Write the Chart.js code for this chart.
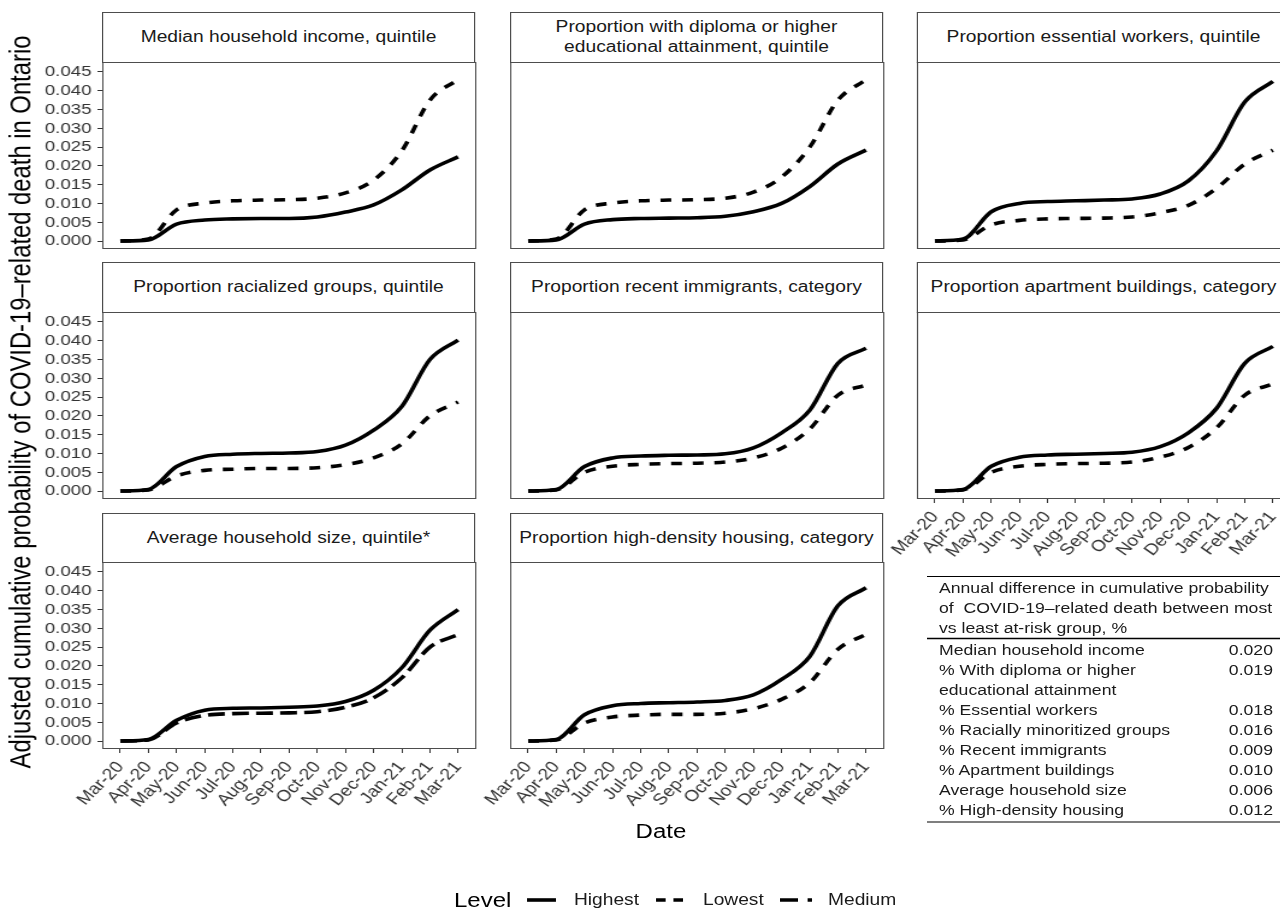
<!DOCTYPE html>
<html>
<head>
<meta charset="utf-8">
<script src="https://cdn.jsdelivr.net/npm/chart.js@4.4.1/dist/chart.umd.min.js"></script>
<style>
  html, body { margin:0; padding:0; background:#fff; }
  body { width:1280px; height:910px; overflow:hidden; position:relative; font-family:"Liberation Sans", Arial, sans-serif; color:#1a1a1a; }
  #stage { position:absolute; left:0; top:0; width:1100px; height:910px; transform:scaleX(1.2); transform-origin:0 0; }
  .strip { position:absolute; box-sizing:border-box; border:1px solid #4d4d4d; background:#fff; display:flex; align-items:center; justify-content:center; text-align:center; font-size:16px; line-height:20px; color:#1a1a1a; white-space:pre; }
  .cbox { position:absolute; }
  .txt { position:absolute; white-space:pre; }
</style>
</head>
<body>
<div id="stage"></div>
<script>
// ---------------- data ----------------
const months = ["Mar-20","Apr-20","May-20","Jun-20","Jul-20","Aug-20","Sep-20","Oct-20","Nov-20","Dec-20","Jan-21","Feb-21","Mar-21"];
const yTickValues = [0, 0.005, 0.010, 0.015, 0.020, 0.025, 0.030, 0.035, 0.040, 0.045];

const panelTitles = [
  "Median household income, quintile",
  "Proportion with diploma or higher\neducational attainment, quintile",
  "Proportion essential workers, quintile",
  "Proportion racialized groups, quintile",
  "Proportion recent immigrants, category",
  "Proportion apartment buildings, category",
  "Average household size, quintile*",
  "Proportion high-density housing, category"
];

const incomeHighest   = [0,0.0003,0.0045,0.0056,0.0059,0.0060,0.0060,0.0064,0.0077,0.0096,0.0136,0.0189,0.0224];
const incomeLowest    = [0,0.0005,0.0083,0.0101,0.0107,0.0109,0.0110,0.0114,0.0128,0.0162,0.0240,0.0375,0.0430];
const diplomaHighest  = [0,0.0003,0.0045,0.0057,0.0060,0.0061,0.0062,0.0066,0.0078,0.0100,0.0145,0.0205,0.0242];
const diplomaLowest   = [0,0.0005,0.0083,0.0101,0.0107,0.0109,0.0110,0.0114,0.0130,0.0170,0.0250,0.0375,0.0430];
const essentialHighest= [0,0.0005,0.0078,0.0100,0.0105,0.0107,0.0109,0.0112,0.0125,0.0160,0.0240,0.0370,0.0425];
const essentialLowest = [0,0.0003,0.0043,0.0055,0.0059,0.0060,0.0061,0.0064,0.0075,0.0095,0.0140,0.0205,0.0242];
const racialHighest   = [0,0.0004,0.0065,0.0092,0.0098,0.0100,0.0101,0.0105,0.0122,0.0162,0.0225,0.0350,0.0402];
const racialLowest    = [0,0.0003,0.0040,0.0055,0.0058,0.0060,0.0060,0.0062,0.0070,0.0088,0.0125,0.0200,0.0237];
const immigHighest    = [0,0.0004,0.0065,0.0088,0.0093,0.0095,0.0096,0.0099,0.0115,0.0155,0.0215,0.0340,0.0380];
const immigLowest     = [0,0.0003,0.0050,0.0066,0.0071,0.0073,0.0074,0.0077,0.0088,0.0114,0.0165,0.0255,0.0282];
const apartHighest    = [0,0.0004,0.0066,0.0090,0.0096,0.0098,0.0100,0.0103,0.0118,0.0155,0.0220,0.0340,0.0385];
const apartLowest     = [0,0.0003,0.0050,0.0066,0.0071,0.0073,0.0074,0.0077,0.0090,0.0116,0.0168,0.0255,0.0285];
const hhsizeHighest   = [0,0.0004,0.0055,0.0082,0.0087,0.0088,0.0090,0.0093,0.0105,0.0135,0.0195,0.0295,0.0350];
const hhsizeMedium    = [0,0.0003,0.0048,0.0068,0.0073,0.0074,0.0075,0.0078,0.0090,0.0115,0.0168,0.0250,0.0283];
const densityHighest  = [0,0.0004,0.0070,0.0094,0.0100,0.0102,0.0104,0.0108,0.0123,0.0164,0.0225,0.0360,0.0408];
const densityLowest   = [0,0.0003,0.0048,0.0064,0.0069,0.0071,0.0071,0.0074,0.0086,0.0111,0.0155,0.0244,0.0284];

const panelSeries = [
  [incomeHighest, incomeLowest, "Lowest"],
  [diplomaHighest, diplomaLowest, "Lowest"],
  [essentialHighest, essentialLowest, "Lowest"],
  [racialHighest, racialLowest, "Lowest"],
  [immigHighest, immigLowest, "Lowest"],
  [apartHighest, apartLowest, "Lowest"],
  [hhsizeHighest, hhsizeMedium, "Medium"],
  [densityHighest, densityLowest, "Lowest"]
];

const tableHeader = ["Annual difference in cumulative probability", "of  COVID-19\u2013related death between most", "vs least at-risk group, %"];
const tableLabels = ["Median household income","% With diploma or higher","educational attainment","% Essential workers","% Racially minoritized groups","% Recent immigrants","% Apartment buildings","Average household size","% High-density housing"];
const tableValues = ["0.020","0.019","","0.018","0.016","0.009","0.010","0.006","0.012"];

const yTitle = "Adjusted cumulative probability of COVID-19\u2013related death in Ontario";
const xTitle = "Date";
const legendTitle = "Level";
const legendItems = ["Highest", "Lowest", "Medium"];

// ---------------- layout (unstretched coordinates) ----------------
const FONT = "'Liberation Sans', Arial, sans-serif";
const colLeft = [85, 425, 764.2];
const rowTop = [12, 262, 512.5];
const STRIP_H = 50.5;
const PLOT_W = 310.8;
const PLOT_H = 187;
const Y_AXIS_W = 55;
const X_AXIS_H = 62;
const P = 30;
const X_MIN = -0.64, X_MAX = 12.64;
const Y_MIN = -0.00213, Y_MAX = 0.04766;
const bottomPanels = [5, 6, 7];
const DASH = { Lowest: [9, 9], Medium: [14, 6] };

Chart.defaults.font.family = FONT;

const stage = document.getElementById('stage');

const panelBorder = {
  id: 'panelBorder',
  afterDraw(chart) {
    const a = chart.chartArea, ctx = chart.ctx;
    ctx.save();
    ctx.strokeStyle = '#4d4d4d';
    ctx.lineWidth = 1;
    ctx.strokeRect(Math.round(a.left) + 0.5, Math.round(a.top) + 0.5, Math.round(a.right - a.left) - 1, Math.round(a.bottom - a.top) - 1);
    ctx.restore();
  }
};

panelTitles.forEach((title, idx) => {
  const col = idx % 3, row = Math.floor(idx / 3);
  const plotL = colLeft[col];
  const stripT = rowTop[row];
  const plotT = stripT + STRIP_H - 1;

  const strip = document.createElement('div');
  strip.className = 'strip';
  strip.style.left = plotL + 'px';
  strip.style.top = stripT + 'px';
  strip.style.width = PLOT_W + 'px';
  strip.style.height = STRIP_H + 'px';
  strip.textContent = title;
  stage.appendChild(strip);

  const showY = col === 0;
  const showX = bottomPanels.includes(idx);
  const yW = showY ? Y_AXIS_W : 0;
  const xH = showX ? X_AXIS_H : 0;

  const box = document.createElement('div');
  box.className = 'cbox';
  box.style.left = (plotL - yW - P) + 'px';
  box.style.top = (plotT - P) + 'px';
  box.style.width = (PLOT_W + yW + 2 * P) + 'px';
  box.style.height = (PLOT_H + xH + 2 * P) + 'px';
  const cv = document.createElement('canvas');
  box.appendChild(cv);
  stage.appendChild(box);

  const [hi, lo, loName] = panelSeries[idx];
  const toPts = arr => arr.map((v, i) => ({ x: i, y: v }));

  new Chart(cv, {
    type: 'line',
    data: {
      datasets: [
        { label: 'Highest', data: toPts(hi), borderColor: '#000', borderWidth: 3.6, pointRadius: 0, fill: false, cubicInterpolationMode: 'monotone', borderCapStyle: 'butt', borderJoinStyle: 'round' },
        { label: loName, data: toPts(lo), borderColor: '#000', borderWidth: 3.6, pointRadius: 0, fill: false, cubicInterpolationMode: 'monotone', borderCapStyle: 'butt', borderDash: DASH[loName] }
      ]
    },
    options: {
      responsive: true,
      maintainAspectRatio: false,
      animation: false,
      events: [],
      layout: { padding: P },
      plugins: { legend: { display: false }, tooltip: { enabled: false } },
      scales: {
        x: {
          type: 'linear', min: X_MIN, max: X_MAX, display: showX,
          afterBuildTicks: s => { s.ticks = months.map((m, i) => ({ value: i })); },
          afterFit: s => { s.height = xH; },
          border: { display: false },
          grid: { display: true, drawOnChartArea: false, drawTicks: true, tickLength: 4, color: '#333', lineWidth: 1 },
          ticks: { autoSkip: false, minRotation: 50, maxRotation: 50, padding: 5, color: '#333', font: { size: 16, family: FONT }, callback: v => months[v] }
        },
        y: {
          min: Y_MIN, max: Y_MAX, display: showY,
          afterBuildTicks: s => { s.ticks = yTickValues.map(v => ({ value: v })); },
          afterFit: s => { s.width = yW; },
          border: { display: false },
          grid: { display: true, drawOnChartArea: false, drawTicks: true, tickLength: 4, color: '#333', lineWidth: 1 },
          ticks: { autoSkip: false, padding: 5, color: '#333', font: { size: 15.5, family: FONT }, callback: v => v.toFixed(3) }
        }
      }
    },
    plugins: [panelBorder]
  });
});

// ---------------- titles ----------------
function addText(str, left, top, size, extra) {
  const d = document.createElement('div');
  d.className = 'txt';
  d.textContent = str;
  d.style.left = left + 'px';
  d.style.top = top + 'px';
  d.style.fontSize = size + 'px';
  if (extra) Object.assign(d.style, extra);
  stage.appendChild(d);
  return d;
}

addText(yTitle, 16.7 - 420, 402 - 15, 23.8, { width: '840px', height: '30px', lineHeight: '30px', textAlign: 'center', transform: 'rotate(-90deg)', transformOrigin: '50% 50%', color: '#000' });
addText(xTitle, 550.8 - 100, 831 - 12, 20, { width: '200px', height: '24px', lineHeight: '24px', textAlign: 'center', color: '#000' });

// ---------------- legend ----------------
const LEG_Y = 900;
addText(legendTitle, 378.3, LEG_Y - 12, 20, { lineHeight: '24px', color: '#000' });
const keyX = [[439.2, 463.3], [546.7, 569.2], [650, 676.7]];
const keyDash = [null, [8, 6.5], [15, 8]];
const labelX = [478.3, 585.8, 690];
const svgNS = 'http://www.w3.org/2000/svg';
const svg = document.createElementNS(svgNS, 'svg');
svg.setAttribute('width', '1100'); svg.setAttribute('height', '910');
svg.style.position = 'absolute'; svg.style.left = '0'; svg.style.top = '0'; svg.style.pointerEvents = 'none';
legendItems.forEach((name, i) => {
  const ln = document.createElementNS(svgNS, 'line');
  ln.setAttribute('x1', keyX[i][0]); ln.setAttribute('x2', keyX[i][1]);
  ln.setAttribute('y1', LEG_Y); ln.setAttribute('y2', LEG_Y);
  ln.setAttribute('stroke', '#000'); ln.setAttribute('stroke-width', '3.6');
  if (keyDash[i]) ln.setAttribute('stroke-dasharray', keyDash[i].join(' '));
  svg.appendChild(ln);
  addText(name, labelX[i], LEG_Y - 10, 16, { lineHeight: '20px', color: '#1a1a1a' });
});

// ---------------- table ----------------
const T_LEFT = 772.5, T_TEXT = 782.5, T_RIGHT = 1060.8, T_W = 330;
function rule(y, h) {
  const r = document.createElementNS(svgNS, 'line');
  r.setAttribute('x1', T_LEFT); r.setAttribute('x2', T_LEFT + T_W);
  r.setAttribute('y1', y); r.setAttribute('y2', y);
  r.setAttribute('stroke', '#000'); r.setAttribute('stroke-width', h);
  svg.appendChild(r);
}
rule(576.5, 1);
rule(638.5, 1.6);
rule(822, 1.2);
tableHeader.forEach((s, i) => addText(s, T_TEXT, 588 + i * 20 - 10, 14.7, { lineHeight: '20px', color: '#1a1a1a' }));
tableLabels.forEach((s, i) => {
  const yc = 650 + i * 20;
  addText(s, T_TEXT, yc - 10, 14.7, { lineHeight: '20px', color: '#1a1a1a' });
  if (tableValues[i]) addText(tableValues[i], T_RIGHT - 60, yc - 10, 14.7, { lineHeight: '20px', width: '60px', textAlign: 'right', color: '#1a1a1a' });
});
stage.appendChild(svg);
</script>
</body>
</html>
